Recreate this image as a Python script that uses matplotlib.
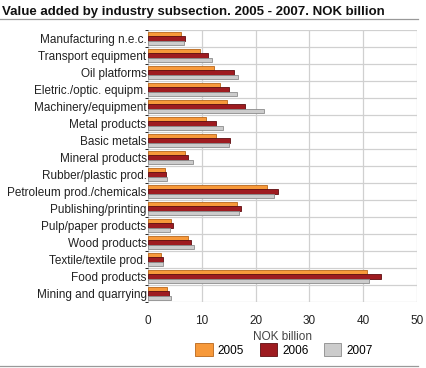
import numpy as np
import matplotlib.pyplot as plt
from matplotlib.lines import Line2D

plt.rcParams['font.family'] = ['Liberation Sans', 'DejaVu Sans']

categories = ['Manufacturing n.e.c.', 'Transport equipment', 'Oil platforms',
              'Eletric./optic. equipm.', 'Machinery/equipment', 'Metal products',
              'Basic metals', 'Mineral products', 'Rubber/plastic prod.',
              'Petroleum prod./chemicals', 'Publishing/printing', 'Pulp/paper products',
              'Wood products', 'Textile/textile prod.', 'Food products',
              'Mining and quarrying']
years = ['2005', '2006', '2007']
v2005 = [6.1, 9.6, 12.2, 13.4, 14.7, 10.8, 12.6, 6.8, 3.2, 22.2, 16.5, 4.3, 7.4, 2.5, 40.7, 3.6]
v2006 = [6.8, 11.2, 16.0, 15.0, 18.1, 12.7, 15.3, 7.4, 3.3, 24.1, 17.2, 4.7, 8.0, 2.8, 43.3, 3.9]
v2007 = [6.7, 11.9, 16.8, 16.6, 21.5, 14.0, 15.0, 8.4, 3.6, 23.4, 17.0, 4.0, 8.6, 2.7, 41.1, 4.3]

colors = ['#F7993A', '#9E1B20', '#CCCCCC']
edges = ['#B8661A', '#5E0D10', '#8C8C8C']

fig = plt.figure(figsize=(4.26, 3.68), dpi=100)
ax = fig.add_axes([148/426, 1-302/368, 269/426, 272/368])

n = len(categories)
y = np.arange(n)
h = 0.26
for i, (vals, c, ec, lab) in enumerate(zip([v2005, v2006, v2007], colors, edges, years)):
    ax.barh(y + (i - 1) * h, vals, height=h, color=c, edgecolor=ec, linewidth=0.6,
            label=lab, zorder=3)

ax.set_ylim(n - 0.5, -0.5)
ax.set_xlim(0, 50)
ax.set_xticks([0, 10, 20, 30, 40, 50])
ax.set_yticks(y)
ax.set_yticklabels(categories)
ax.set_yticks(np.arange(-0.5, n, 1), minor=True)
ax.tick_params(axis='both', length=0, labelsize=8.5, colors='#222222')
ax.tick_params(axis='y', pad=1)
ax.tick_params(axis='x', pad=9)
ax.grid(axis='x', color='#D0D0D0', linewidth=0.9, zorder=0)
ax.grid(axis='y', which='minor', color='#D0D0D0', linewidth=0.9, zorder=0)
for s in ax.spines.values():
    s.set_visible(False)
ax.set_xlabel('NOK billion', fontsize=8.5, color='#444444', labelpad=3)

handles, labels = ax.get_legend_handles_labels()
fig.legend(handles, labels, loc='center', bbox_to_anchor=(284/426, 1-350/368), ncol=3,
           frameon=False, fontsize=8.5, handlelength=1.45, handleheight=1.3,
           columnspacing=1.3, handletextpad=0.45, borderaxespad=0)

fig.text(0.005, 0.985, 'Value added by industry subsection. 2005 - 2007. NOK billion',
         fontsize=9.5, fontweight='bold', va='top', ha='left', color='#111111')
fig.add_artist(Line2D([0, 418/426], [1-19/368, 1-19/368], color='#999999', linewidth=0.9))
fig.add_artist(Line2D([0, 418/426], [1-366/368, 1-366/368], color='#999999', linewidth=0.9))

fig.savefig('out.png', dpi=100)
